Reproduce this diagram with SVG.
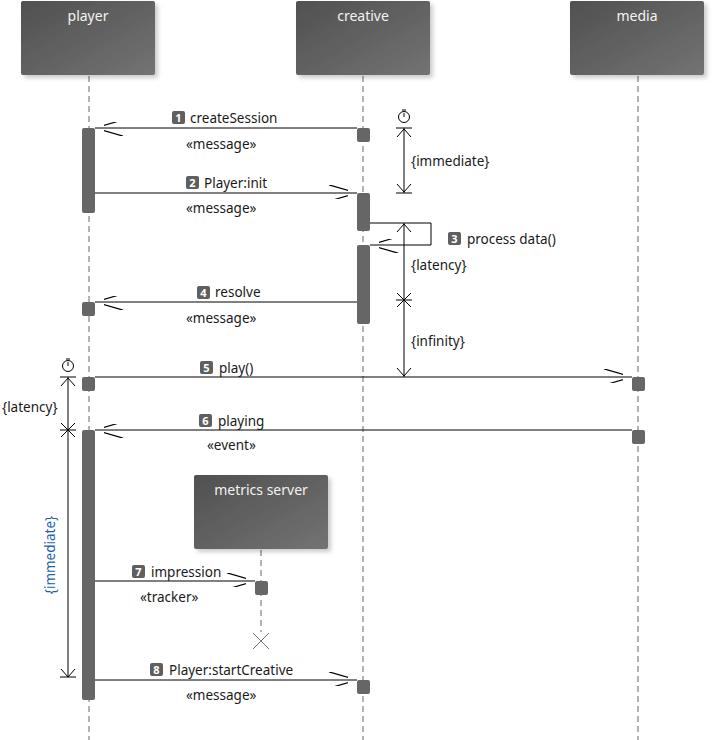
<svg xmlns="http://www.w3.org/2000/svg" width="714" height="740" viewBox="0 0 714 740">
<defs>
<linearGradient id="hg" x1="0" y1="0" x2="1" y2="1"><stop offset="0" stop-color="#505050"/><stop offset="1" stop-color="#737373"/></linearGradient>
<filter id="sh" x="-10%" y="-10%" width="130%" height="130%"><feDropShadow dx="3" dy="3" stdDeviation="2" flood-color="#000" flood-opacity="0.2"/></filter>
<marker id="oa" viewBox="0 0 12 12" markerWidth="24" markerHeight="14" refX="24" refY="7" markerUnits="userSpaceOnUse" orient="auto"><path d="M0,0 L24,7 L0,14" fill="none" stroke="#000" stroke-width="1"/></marker>
</defs>
<style>
text{font-family:"Noto Sans","Liberation Sans",sans-serif;font-size:13.5px;fill:#1a1a1a}
.ht{fill:#f2f2f2;font-size:14px;text-anchor:middle}
.hd{fill:url(#hg);filter:url(#sh)}
.ll{stroke:#666;stroke-width:1;stroke-dasharray:6,4}
.act{fill:#666}
.msg{stroke:#000;stroke-width:1;fill:none}
.bd{fill:#5f5f5f}
.bt{fill:#fff;font-size:11px;font-weight:bold;text-anchor:middle}
.c{stroke:#000;stroke-width:1;fill:none}
</style>
<g id="lifelines">
<line class="ll" x1="89" y1="76" x2="89" y2="740"/>
<line class="ll" x1="363" y1="76" x2="363" y2="740"/>
<line class="ll" x1="638" y1="76" x2="638" y2="740"/>
<line class="ll" x1="261" y1="550" x2="261" y2="632"/>
<path d="M253,633 L269,649 M269,633 L253,649" stroke="#777" stroke-width="1"/>
</g>
<g id="player"><rect class="hd" x="21" y="1" width="134" height="74" rx="2"/><text class="ht" x="88" y="21">player</text></g>
<g id="creative"><rect class="hd" x="296" y="1" width="134" height="74" rx="2"/><text class="ht" x="363" y="21">creative</text></g>
<g id="media"><rect class="hd" x="570" y="1" width="134" height="74" rx="2"/><text class="ht" x="637" y="21">media</text></g>
<g id="metrics"><rect class="hd" x="194" y="475" width="134" height="74" rx="2"/><text class="ht" x="261" y="495">metrics server</text></g>
<g id="activations">
<rect class="act" x="82" y="128" width="13" height="85" rx="2"/>
<rect class="act" x="357" y="128" width="13" height="14" rx="2"/>
<rect class="act" x="357" y="193" width="13" height="38" rx="2"/>
<rect class="act" x="357" y="245" width="13" height="79" rx="2"/>
<rect class="act" x="82" y="302" width="13" height="14" rx="2"/>
<rect class="act" x="82" y="377" width="13" height="14" rx="2"/>
<rect class="act" x="632" y="377" width="13" height="14" rx="2"/>
<rect class="act" x="632" y="430" width="13" height="14" rx="2"/>
<rect class="act" x="82" y="430" width="13" height="270" rx="2"/>
<rect class="act" x="255" y="581" width="13" height="14" rx="2"/>
<rect class="act" x="357" y="680" width="13" height="14" rx="2"/>
</g>
<g id="connectors">
<line class="msg" x1="357" y1="128" x2="95" y2="128" marker-end="url(#oa)"/>
<line class="msg" x1="95" y1="193" x2="357" y2="193" marker-end="url(#oa)"/>
<polyline class="msg" points="370,223 431,223 431,245 370,245" marker-end="url(#oa)"/>
<line class="msg" x1="357" y1="302" x2="95" y2="302" marker-end="url(#oa)"/>
<line class="msg" x1="95" y1="377" x2="632" y2="377" marker-end="url(#oa)"/>
<line class="msg" x1="632" y1="430" x2="95" y2="430" marker-end="url(#oa)"/>
<line class="msg" x1="95" y1="581" x2="255" y2="581" marker-end="url(#oa)"/>
<line class="msg" x1="95" y1="680" x2="357" y2="680" marker-end="url(#oa)"/>
</g>
<g id="constraints">
<circle class="c" cx="404" cy="117" r="5.5" stroke-width="1.6"/><path d="M404,113 V117 M402,110 H406" class="c" stroke-width="1.6"/>
<line class="c" x1="404" y1="128" x2="404" y2="193"/>
<path class="c" d="M396,128 H412 M397,137 L404,129 L411,137 M396,193 H412 M397,184 L404,192 L411,184"/>
<line class="c" x1="404" y1="223" x2="404" y2="377"/>
<path class="c" d="M397,232 L404,224 L411,232 M397,293 L411,307 M411,293 L397,307 M396,300 H412 M397,368 L404,376 L411,368"/>
<circle class="c" cx="68" cy="366" r="5.5" stroke-width="1.6"/><path d="M68,362 V366 M66,359 H70" class="c" stroke-width="1.6"/>
<line class="c" x1="68" y1="377" x2="68" y2="677"/>
<path class="c" d="M60,377 H76 M61,386 L68,378 L75,386 M61,423 L75,437 M75,423 L61,437 M60,430 H76 M61,669 L68,677 L75,669 M60,677 H76"/>
<text x="411" y="166">{immediate}</text>
<text x="411" y="270">{latency}</text>
<text x="411" y="346">{infinity}</text>
<text x="2" y="412">{latency}</text>
<text x="55" y="555" text-anchor="middle" transform="rotate(-90 55 555)" style="fill:#1f5fa8">{immediate}</text>
</g>
<g id="labels">
<rect class="bd" x="172" y="111" width="13" height="13" rx="2"/><text class="bt" x="178.5" y="122">1</text><text x="190" y="123">createSession</text>
<text x="186" y="149">«message»</text>
<rect class="bd" x="186" y="176" width="13" height="13" rx="2"/><text class="bt" x="192.5" y="187">2</text><text x="204" y="188">Player:init</text>
<text x="186" y="213">«message»</text>
<rect class="bd" x="448" y="232" width="13" height="13" rx="2"/><text class="bt" x="454.5" y="243">3</text><text x="467" y="244">process data()</text>
<rect class="bd" x="197" y="286" width="13" height="13" rx="2"/><text class="bt" x="203.5" y="297">4</text><text x="215" y="297">resolve</text>
<text x="186" y="323">«message»</text>
<rect class="bd" x="200" y="361" width="13" height="13" rx="2"/><text class="bt" x="206.5" y="372">5</text><text x="219" y="373">play()</text>
<rect class="bd" x="199" y="414" width="13" height="13" rx="2"/><text class="bt" x="205.5" y="425">6</text><text x="218" y="426">playing</text>
<text x="207" y="450">«event»</text>
<rect class="bd" x="132" y="565" width="13" height="13" rx="2"/><text class="bt" x="138.5" y="576">7</text><text x="151" y="577">impression</text>
<text x="140" y="602">«tracker»</text>
<rect class="bd" x="150" y="663" width="13" height="13" rx="2"/><text class="bt" x="156.5" y="674">8</text><text x="169" y="675">Player:startCreative</text>
<text x="186" y="700">«message»</text>
</g>
</svg>
